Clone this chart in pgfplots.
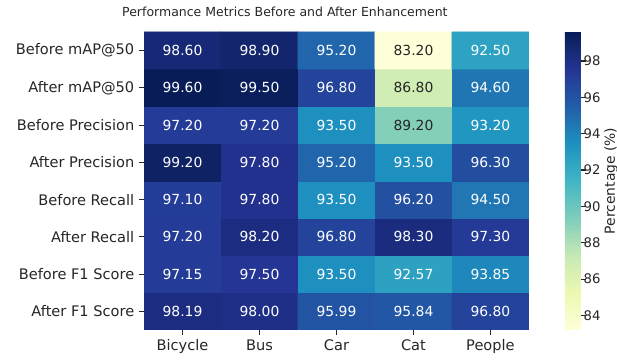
\documentclass[border=0pt]{standalone}
\usepackage{pgfplots}
\usepackage{pgfplotstable}
\pgfplotsset{compat=1.18}
\usepackage{fontspec}
\setmainfont{DejaVu Sans}
\definecolor{darktext}{gray}{0.15}

% y = 0 is the bottom row (After F1 Score), y = 7 the top row (Before mAP@50)
\pgfplotstableread{
x y z
0 0 98.19
1 0 98.00
2 0 95.99
3 0 95.84
4 0 96.80
0 1 97.15
1 1 97.50
2 1 93.50
3 1 92.57
4 1 93.85
0 2 97.20
1 2 98.20
2 2 96.80
3 2 98.30
4 2 97.30
0 3 97.10
1 3 97.80
2 3 93.50
3 3 96.20
4 3 94.50
0 4 99.20
1 4 97.80
2 4 95.20
3 4 93.50
4 4 96.30
0 5 97.20
1 5 97.20
2 5 93.50
3 5 89.20
4 5 93.20
0 6 99.60
1 6 99.50
2 6 96.80
3 6 86.80
4 6 94.60
0 7 98.60
1 7 98.90
2 7 95.20
3 7 83.20
4 7 92.50
}\heat

\begin{document}
\begin{tikzpicture}
\useasboundingbox (-103.7pt,-21.6pt) rectangle (340.6pt,237.6pt);
\begin{axis}[
  at={(0,0)}, anchor=south west,
  width=277.2pt, height=214.6pt, scale only axis,
  xmin=-0.5, xmax=4.5, ymin=-0.5, ymax=7.5,
  axis line style={draw=none},
  xtick={0,...,4}, xticklabels={Bicycle,Bus,Car,Cat,People},
  ytick={0,...,7},
  yticklabels={After F1 Score,Before F1 Score,After Recall,Before Recall,After Precision,Before Precision,After mAP@50,Before mAP@50},
  tick align=outside, tick pos=left, major tick length=3.5pt,
  tick style={darktext, line width=0.8pt},
  ticklabel style={font=\fontsize{10.5}{12}\selectfont, text=darktext},
  title={Performance Metrics Before and After Enhancement},
  title style={at={(0.366,1)}, anchor=base, yshift=5pt, font=\fontsize{9}{11}\selectfont, text=darktext, inner sep=0pt},
  colormap={ylgnbu}{rgb255=(255,255,217) rgb255=(237,248,177) rgb255=(199,233,180) rgb255=(127,205,187) rgb255=(65,182,196) rgb255=(29,145,192) rgb255=(34,94,168) rgb255=(37,52,148) rgb255=(8,29,88)},
  point meta min=83.2, point meta max=99.6,
  colorbar,
  colorbar style={
    at={(parent axis.north east)}, anchor=north west, xshift=17.3pt,
    width=11.5pt, height=214.6pt, scale only axis,
    axis line style={draw=none},
    xtick=\empty,
    ytick={84,86,...,98},
    ytick pos=right, yticklabel pos=right,
    tick align=outside, major tick length=3.5pt,
    tick style={darktext, line width=0.8pt},
    yticklabel style={font=\fontsize{9.5}{11}\selectfont, text=darktext, xshift=-5pt, /pgf/number format/assume math mode=true},
    ylabel={Percentage (\%)},
    ylabel style={at={(axis description cs:2.9,0.5)}, anchor=center, inner sep=0pt, font=\fontsize{10}{12}\selectfont, text=darktext},
  },
  /pgf/number format/assume math mode=true,
]
\addplot[matrix plot*, mesh/cols=5, point meta=explicit] table[x=x, y=y, meta=z] {\heat};
\addplot[only marks, mark=none, point meta=explicit,
  restrict expr to domain={\thisrow{z}}{90:100},
  nodes near coords={\pgfmathprintnumber[fixed,fixed zerofill,precision=2]{\pgfplotspointmeta}},
  every node near coord/.append style={anchor=center, text=white, font=\fontsize{10}{12}\selectfont}]
  table[x=x, y=y, meta=z] {\heat};
\addplot[only marks, mark=none, point meta=explicit,
  restrict expr to domain={\thisrow{z}}{80:90},
  nodes near coords={\pgfmathprintnumber[fixed,fixed zerofill,precision=2]{\pgfplotspointmeta}},
  every node near coord/.append style={anchor=center, text=darktext, font=\fontsize{10}{12}\selectfont}]
  table[x=x, y=y, meta=z] {\heat};
\end{axis}
\end{tikzpicture}
\end{document}
